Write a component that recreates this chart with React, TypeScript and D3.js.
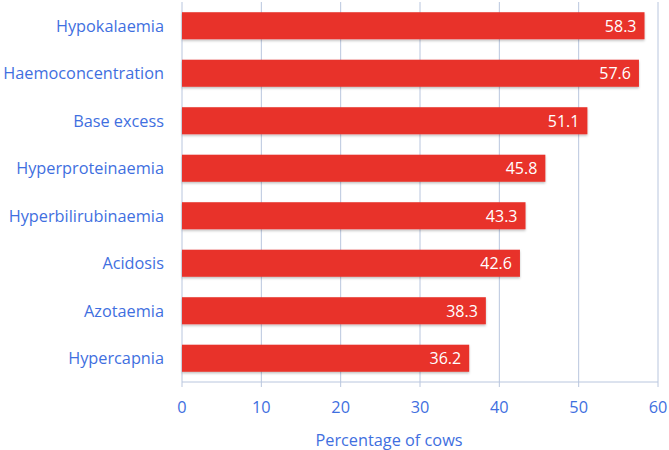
import React, { useEffect, useRef } from 'react';
import * as d3 from 'd3';

const categories = [
  'Hypokalaemia',
  'Haemoconcentration',
  'Base excess',
  'Hyperproteinaemia',
  'Hyperbilirubinaemia',
  'Acidosis',
  'Azotaemia',
  'Hypercapnia',
];
const values = [58.3, 57.6, 51.1, 45.8, 43.3, 42.6, 38.3, 36.2];
const xTicks = [0, 10, 20, 30, 40, 50, 60];
const xTitle = 'Percentage of cows';

const App: React.FC = () => {
  const svgRef = useRef<SVGSVGElement>(null);

  useEffect(() => {
    if (!svgRef.current) return;
    const svg = d3.select(svgRef.current);
    svg.selectAll('*').remove();

    const width = 669;
    const height = 450;
    const left = 182;
    const right = 658;
    const top = 2;
    const bottom = 382;
    const blue = '#3f6fe0';
    const red = '#e8332a';
    const grid = '#b9c6de';
    const font = "'Open Sans', 'DejaVu Sans', sans-serif";

    const x = d3.scaleLinear().domain([0, 60]).range([left, right]);
    const y = d3.scaleBand<string>().domain(categories).range([top, bottom]).paddingInner(0.43).paddingOuter(0.215);

    svg.attr('width', width).attr('height', height);

    const defs = svg.append('defs');
    const f = defs.append('filter').attr('id', 'shadow').attr('x', '-5%').attr('y', '-20%').attr('width', '110%').attr('height', '150%');
    f.append('feDropShadow').attr('dx', 0).attr('dy', 1.5).attr('stdDeviation', 1).attr('flood-color', '#000').attr('flood-opacity', 0.25);

    // Gridlines
    svg.append('g')
      .selectAll('line')
      .data(xTicks)
      .enter()
      .append('line')
      .attr('x1', d => x(d))
      .attr('x2', d => x(d))
      .attr('y1', top)
      .attr('y2', bottom + 5)
      .attr('stroke', grid)
      .attr('stroke-width', 1);

    // Bottom axis line
    svg.append('line')
      .attr('x1', left).attr('x2', right)
      .attr('y1', bottom).attr('y2', bottom)
      .attr('stroke', grid).attr('stroke-width', 1);

    // Bars
    svg.append('g')
      .selectAll('rect')
      .data(categories)
      .enter()
      .append('rect')
      .attr('x', x(0))
      .attr('y', d => y(d)!)
      .attr('width', (_, i) => x(values[i]) - x(0))
      .attr('height', y.bandwidth())
      .attr('fill', red)
      .attr('filter', 'url(#shadow)');

    // Value labels
    svg.append('g')
      .selectAll('text')
      .data(categories)
      .enter()
      .append('text')
      .attr('x', (_, i) => x(values[i]) - 8)
      .attr('y', d => y(d)! + y.bandwidth() / 2)
      .attr('dy', '0.36em')
      .attr('text-anchor', 'end')
      .attr('font-family', font)
      .attr('font-size', 16)
      .attr('fill', '#ffffff')
      .text((_, i) => values[i].toFixed(1));

    // Category labels
    svg.append('g')
      .selectAll('text')
      .data(categories)
      .enter()
      .append('text')
      .attr('x', 164)
      .attr('y', d => y(d)! + y.bandwidth() / 2)
      .attr('dy', '0.36em')
      .attr('text-anchor', 'end')
      .attr('font-family', font)
      .attr('font-size', 16.3)
      .attr('fill', blue)
      .text(d => d);

    // Tick labels
    svg.append('g')
      .selectAll('text')
      .data(xTicks)
      .enter()
      .append('text')
      .attr('x', d => x(d))
      .attr('y', 407)
      .attr('dy', '0.36em')
      .attr('text-anchor', 'middle')
      .attr('font-family', font)
      .attr('font-size', 16.3)
      .attr('fill', blue)
      .text(d => d);

    // Axis title
    svg.append('text')
      .attr('x', 389)
      .attr('y', 440)
      .attr('dy', '0.36em')
      .attr('text-anchor', 'middle')
      .attr('font-family', font)
      .attr('font-size', 16.3)
      .attr('fill', blue)
      .text(xTitle);
  }, []);

  return (
    <div style={{ position: 'absolute', left: 0, top: 0, width: 669, height: 450, background: '#fff' }}>
      <svg ref={svgRef} width="669" height="450" style={{ display: 'block' }} />
    </div>
  );
};

export default App;
